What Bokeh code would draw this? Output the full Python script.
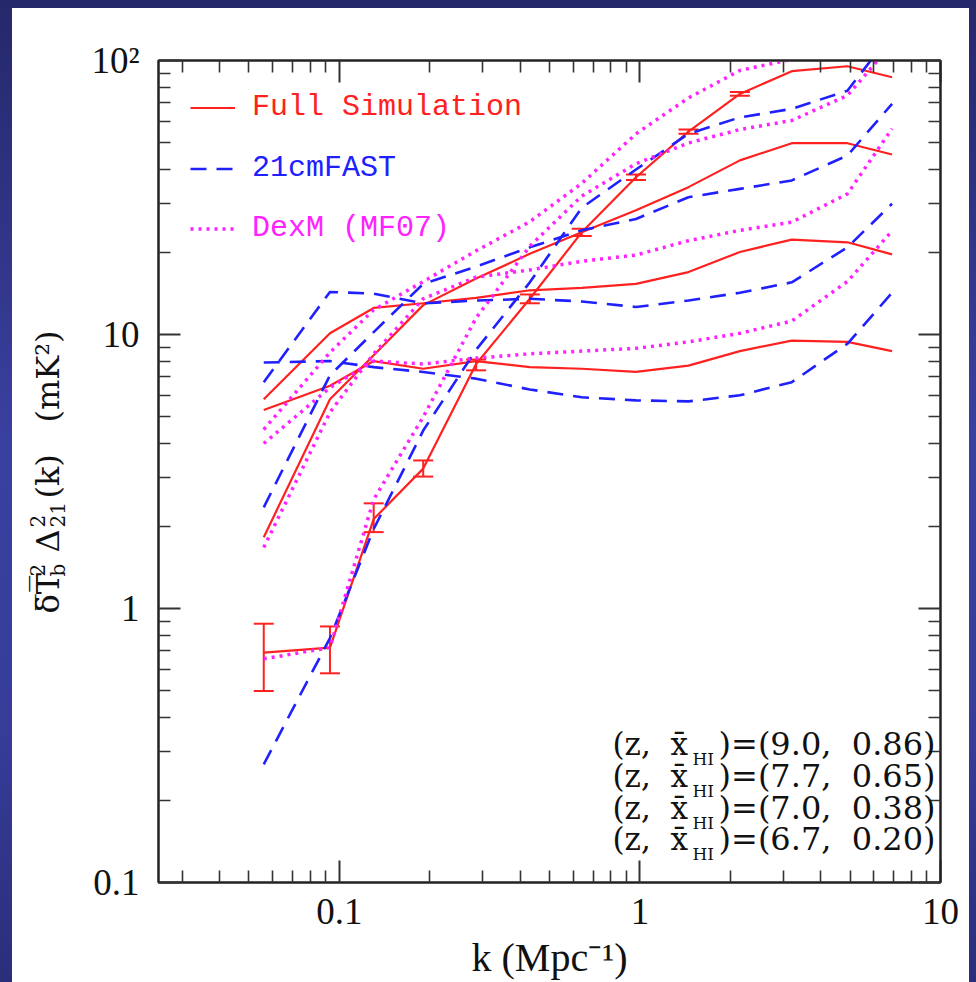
import math
from bokeh.plotting import figure
from bokeh.layouts import row
from bokeh.models import (LogAxis, FixedTicker, CustomJSTickFormatter, Label, Legend,
                          LegendItem, Whisker, TeeHead, ColumnDataSource, Range1d)
from bokeh.embed import file_html
from bokeh.resources import INLINE

# ---------------- data ----------------
k = [0.056, 0.093, 0.13, 0.19, 0.285, 0.43, 0.64, 0.97, 1.45, 2.15, 3.2, 4.9, 6.9]

# Full simulation
sim_a = [5.3, 6.5, 8.0, 7.5, 8.0, 7.6, 7.5, 7.3, 7.7, 8.7, 9.5, 9.4, 8.7]
sim_b = [5.8, 10.1, 12.5, 13.0, 13.6, 14.5, 14.8, 15.3, 16.9, 20.0, 22.2, 21.7, 19.6]
sim_c = [1.82, 5.8, 8.4, 12.8, 16.0, 19.7, 23.6, 28.4, 34.5, 43.2, 49.9, 49.9, 45.4]
sim_d = [0.69, 0.72, 2.12, 3.24, 7.8, 13.5, 23.6, 37.5, 55.0, 75.5, 91.4, 95.3, 86.9]
err_k = [0.056, 0.093, 0.13, 0.19, 0.285, 0.43, 0.64, 0.97, 1.45, 2.15]
err_lo = [0.50, 0.58, 1.90, 3.03, 7.4, 13.0, 22.9, 36.6, 54.0, 74.3]
err_hi = [0.88, 0.86, 2.42, 3.47, 8.1, 14.0, 24.3, 38.4, 56.0, 76.7]

# 21cmFAST
fast_a = [7.9, 8.0, 7.6, 7.3, 6.9, 6.3, 5.9, 5.75, 5.7, 6.0, 6.7, 9.25, 14.2]
fast_b = [6.7, 14.3, 14.1, 13.0, 13.3, 13.5, 13.2, 12.6, 13.3, 14.2, 15.5, 20.8, 30.0]
fast_c = [2.34, 7.1, 10.2, 15.3, 17.7, 20.8, 24.0, 26.4, 31.7, 34.0, 36.5, 45.0, 69.5]
fast_d = [0.27, 0.78, 1.95, 4.46, 8.8, 15.5, 29.0, 40.0, 54.0, 62.0, 66.6, 77.6, 126.0]

# DexM (MF07)
dexm_a = [4.0, 6.4, 8.0, 7.8, 8.2, 8.5, 8.7, 8.9, 9.4, 10.1, 11.2, 15.6, 23.9]
dexm_b = [4.5, 8.6, 12.3, 15.6, 20.2, 25.8, 35.6, 54.0, 73.0, 92.0, 101.0, 112.0, 120.0]
dexm_c = [1.67, 5.2, 8.5, 13.5, 16.2, 17.2, 18.5, 19.5, 22.0, 24.0, 25.7, 32.6, 56.4]
dexm_d = [0.655, 0.72, 2.5, 5.0, 11.5, 21.0, 32.0, 42.0, 50.0, 56.0, 60.4, 74.5, 115.0]

z_vals = ["9.0", "7.7", "7.0", "6.7"]
xhi_vals = ["0.86", "0.65", "0.38", "0.20"]

x_major = [0.1, 1, 10]
y_major = [0.1, 1, 10, 100]
series_names = ["Full Simulation", "21cmFAST", "DexM (MF07)"]

# ---------------- styling ----------------
RED = "#ff2020"
BLUE = "#2020ff"
MAG = "#ff22ff"
INK = "#111111"
NB = "\u00a0"
X0, X1, Y0, Y1 = 0.025, 10.0, 0.1, 100.0
# page layout: everything offset 12px right, 8px down; left strip 70px for the y label
OX, OY = 12, 8
LW = 70
FL, FR, FT, FB = 158, 940, 60, 882   # frame edges in page pixels


def dx(px):
    return 10 ** (math.log10(X0) + (px - FL) / (FR - FL) * math.log10(X1 / X0))


def dy(py):
    return 10 ** (math.log10(Y0) + (FB - py) / (FB - FT) * math.log10(Y1 / Y0))


p = figure(width=957 - LW, height=974, x_axis_type="log", y_axis_type="log",
           x_range=(X0, X1), y_range=(Y0, Y1),
           output_backend="svg", toolbar_location=None,
           min_border_left=FL - OX - LW, min_border_right=29, min_border_top=FT - OY,
           min_border_bottom=974 - (FB - OY))
p.background_fill_color = "white"
p.border_fill_color = "white"
p.xgrid.visible = False
p.ygrid.visible = False
p.outline_line_color = "#222222"
p.outline_line_width = 2


def minors(lo, hi):
    out = []
    e = math.floor(math.log10(lo))
    while 10 ** e < hi:
        for m in range(2, 10):
            v = m * 10 ** e
            if lo < v < hi:
                out.append(v)
        e += 1
    return out


xfmt = CustomJSTickFormatter(code="if (tick > 5) return '10'; if (tick > 0.5) return '1'; return '0.1';")
yfmt = CustomJSTickFormatter(code="if (tick > 50) return '10\u00b2'; if (tick > 5) return '10'; if (tick > 0.5) return '1'; return '0.1';")


def style_axis(ax):
    ax.axis_line_width = 2
    ax.axis_line_color = "#222222"
    ax.major_tick_in = 22
    ax.major_tick_out = 0
    ax.minor_tick_in = 12
    ax.minor_tick_out = 0
    ax.major_tick_line_width = 2
    ax.minor_tick_line_width = 1.6
    ax.major_tick_line_color = "#333333"
    ax.minor_tick_line_color = "#333333"
    ax.major_label_text_font = "Liberation Serif"
    ax.major_label_text_font_size = "37px"
    ax.major_label_text_color = INK


xa = p.xaxis[0]
xa.ticker = FixedTicker(ticks=x_major, minor_ticks=minors(X0, X1))
xa.formatter = xfmt
style_axis(xa)
xa.major_label_standoff = 16
xa.axis_label = "k (Mpc\u207b\u00b9)"
xa.axis_label_text_font = "Liberation Serif"
xa.axis_label_text_font_size = "40px"
xa.axis_label_text_font_style = "normal"
xa.axis_label_text_color = INK
xa.axis_label_standoff = 8

ya = p.yaxis[0]
ya.ticker = FixedTicker(ticks=y_major, minor_ticks=minors(Y0, Y1))
ya.formatter = yfmt
style_axis(ya)
ya.major_label_standoff = 19

top = LogAxis(ticker=FixedTicker(ticks=x_major, minor_ticks=minors(X0, X1)))
style_axis(top)
top.major_label_text_font_size = "1px"
top.major_label_text_color = None
p.add_layout(top, "above")
right = LogAxis(ticker=FixedTicker(ticks=y_major, minor_ticks=minors(Y0, Y1)))
style_axis(right)
right.major_label_text_font_size = "1px"
right.major_label_text_color = None
p.add_layout(right, "right")

# ---------------- curves ----------------
sim_r = [p.line(k, s, line_color=RED, line_width=2.2) for s in (sim_a, sim_b, sim_c, sim_d)]
fast_r = [p.line(k, s, line_color=BLUE, line_width=2.6, line_dash="16 10")
          for s in (fast_a, fast_b, fast_c, fast_d)]
dexm_r = [p.line(k, s, line_color=MAG, line_width=3.5, line_dash="3 5")
          for s in (dexm_a, dexm_b, dexm_c, dexm_d)]

src = ColumnDataSource(dict(k=err_k, lo=err_lo, hi=err_hi))
p.add_layout(Whisker(source=src, base="k", lower="lo", upper="hi", dimension="height",
                     line_color=RED, line_width=2,
                     upper_head=TeeHead(size=20, line_color=RED, line_width=2),
                     lower_head=TeeHead(size=20, line_color=RED, line_width=2)))

# ---------------- legends (one per entry, own text colour) ----------------
for name, r, col, cy in zip(series_names, (sim_r[0], fast_r[0], dexm_r[0]),
                            (RED, BLUE, MAG), (107, 168, 228)):
    leg = Legend(items=[LegendItem(label=name, renderers=[r])],
                 location=(32, FB - cy - 17.5), padding=0, margin=0,
                 glyph_width=45, glyph_height=35, label_height=35, label_standoff=17,
                 label_text_font="Liberation Mono", label_text_font_size="30px",
                 label_text_color=col, border_line_color=None, background_fill_alpha=0)
    p.add_layout(leg)


def lab(fig, text, x, y, size, font="DejaVu Serif", align="left", angle=0.0):
    fig.add_layout(Label(x=x, y=y, text=text, text_font=font,
                         text_font_size=f"{size}px", text_color=INK, text_align=align,
                         text_baseline="middle", angle=angle))


# redshift / neutral-fraction annotation (inside the frame)
for z, xh, cy in zip(z_vals, xhi_vals, (743, 775, 807, 838)):
    lab(p, "(z," + NB + NB + "x\u0304", dx(612), dy(cy), 31)
    lab(p, "HI", dx(692), dy(cy + 15), 17)
    lab(p, ")=(" + z + "," + NB + NB + xh + ")", dx(935), dy(cy), 32, align="right")

# ---------------- left strip carrying the rotated y-axis label ----------------
# its frame is aligned by the row with the main frame (page y 60..882),
# so the ranges are expressed directly in page pixels
side = figure(width=LW, height=974, x_range=Range1d(OX, OX + LW), y_range=Range1d(FB, FT),
              x_axis_location=None, y_axis_location=None,
              output_backend="svg", toolbar_location=None,
              min_border=0, min_border_left=0, min_border_right=0,
              min_border_top=0, min_border_bottom=0)
side.outline_line_color = None
side.background_fill_color = "white"
side.border_fill_color = "white"
side.xgrid.visible = False
side.ygrid.visible = False


def slab(text, px, py, size):
    lab(side, text, px, py, size, angle=math.pi / 2)


slab("\u03b4\u0305T\u0305", 47, 613, 32)
slab("b", 57, 576, 20)
slab("2", 37, 576, 20)
slab("\u0394", 47, 552, 32)
slab("2", 37, 527, 20)
slab("21", 57, 527, 20)
slab("(k)", 47, 498, 32)
slab("(mK\u00b2)", 47, 422, 32)

layout = row(side, p, spacing=0)
layout.styles = {"background-color": "white"}

html = file_html(layout, INLINE, title="21cm power spectrum")
style = ("<style>html,body{margin:0;padding:0;}"
         "body{background:linear-gradient(180deg,#25286a 0%,#3a40a0 45%,#363c98 75%,#2a2e7a 100%);"
         "padding:8px 0 0 12px;width:976px;height:982px;box-sizing:border-box;overflow:hidden;}"
         "</style>")
html = html.replace("</head>", style + "</head>", 1)
open("out.html", "w").write(html)
